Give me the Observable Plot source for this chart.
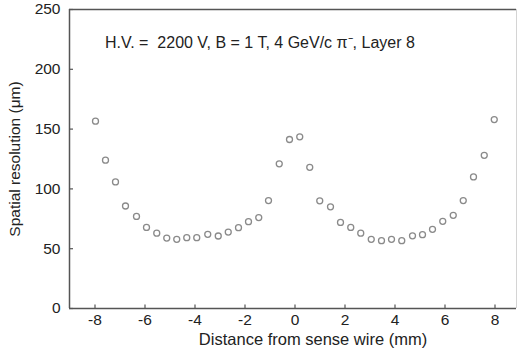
<!DOCTYPE html>
<html>
<head>
<meta charset="utf-8">
<script src="https://cdn.jsdelivr.net/npm/d3@7"></script>
<script src="https://cdn.jsdelivr.net/npm/@observablehq/plot@0.6"></script>
<style>
  html, body { margin: 0; padding: 0; background: #fff; }
  #chart svg { display: block; }
</style>
</head>
<body>
<div id="chart"></div>
<script>
// Distance from sense wire (mm)
const distance = [
  -7.98, -7.58, -7.18, -6.78, -6.34, -5.94, -5.53, -5.13, -4.73, -4.33,
  -3.93, -3.49, -3.07, -2.67, -2.26, -1.86, -1.45, -1.06, -0.63, -0.22,
   0.19,  0.59,  0.99,  1.42,  1.82,  2.23,  2.63,  3.05,  3.46,  3.86,
   4.27,  4.70,  5.10,  5.50,  5.91,  6.33,  6.73,  7.14,  7.57,  7.97
];
// Spatial resolution (µm)
const resolution = [
  156.6, 124.0, 105.8, 85.7, 77.0, 67.8, 63.0, 58.9, 57.8, 59.2,
   59.2,  62.0,  60.6, 63.9, 67.6, 72.6, 76.0, 90.2, 121.0, 141.3,
  143.5, 118.0,  90.0, 85.0, 72.0, 67.8, 63.0, 57.8, 56.7, 57.8,
   56.7,  60.8,  61.7, 66.2, 72.9, 77.9, 90.2, 110.0, 128.1, 158.0
];
const xTicks = [-8, -6, -4, -2, 0, 2, 4, 6, 8];
const yTicks = [0, 50, 100, 150, 200, 250];
const xDomain = [-9.02, 8.86];
const yDomain = [0, 250];
const annotation = [{x: -7.6, y: 222, label: "H.V. =\u00a0 2200 V, B = 1 T, 4 GeV/c \u03c0\u207b, Layer 8"}];
const xLabel = "Distance from sense wire (mm)";
const yLabel = "Spatial resolution (\u03bcm)";

const points = distance.map((d, i) => ({x: d, y: resolution[i]}));

const axisColor = "#555";
const textColor = "#222";

const chart = Plot.plot({
  width: 518,
  height: 355,
  marginLeft: 69,
  marginRight: 2,
  marginTop: 9,
  marginBottom: 47,
  style: {fontFamily: "'Liberation Sans', Arial, sans-serif", fontSize: "15px", color: textColor, background: "#fff"},
  x: {domain: xDomain},
  y: {domain: yDomain},
  marks: [
    // frame: left, bottom, top dark; right faint
    Plot.ruleX([xDomain[0]], {stroke: axisColor, strokeWidth: 1.5}),
    Plot.ruleY([yDomain[0], yDomain[1]], {stroke: axisColor, strokeWidth: 1.5}),
    Plot.ruleX([xDomain[1]], {stroke: "#d4d4d4", strokeWidth: 1}),
    Plot.ruleX(xTicks, {x: d => d, y1: yDomain[0], y2: 3, stroke: axisColor, strokeWidth: 1.2}),
    Plot.ruleY(yTicks, {y: d => d, x1: xDomain[0], x2: xDomain[0] + 0.16, stroke: axisColor, strokeWidth: 1.2}),
    Plot.axisX({ticks: xTicks, tickSize: 0, tickPadding: 5, fontSize: 15.5, fill: textColor,
      tickFormat: d => d < 0 ? "-" + Math.abs(d) : String(d),
      label: null}),
    Plot.text([xLabel], {text: d => d, frameAnchor: "bottom", dx: 20, dy: 36, fontSize: 16.5, fill: textColor}),
    Plot.axisY({ticks: yTicks, tickSize: 0, tickPadding: 9, fontSize: 15.5, fill: textColor,
      label: yLabel, labelAnchor: "center", labelArrow: "none", labelOffset: 61}),
    Plot.dot(points, {x: "x", y: "y", r: 3, stroke: "#8a8a8a", strokeWidth: 1.3, fill: "none"}),
    Plot.text(annotation, {x: "x", y: "y", text: "label", textAnchor: "start", fontSize: 16, fill: textColor})
  ]
});
document.getElementById("chart").appendChild(chart);
</script>
</body>
</html>
